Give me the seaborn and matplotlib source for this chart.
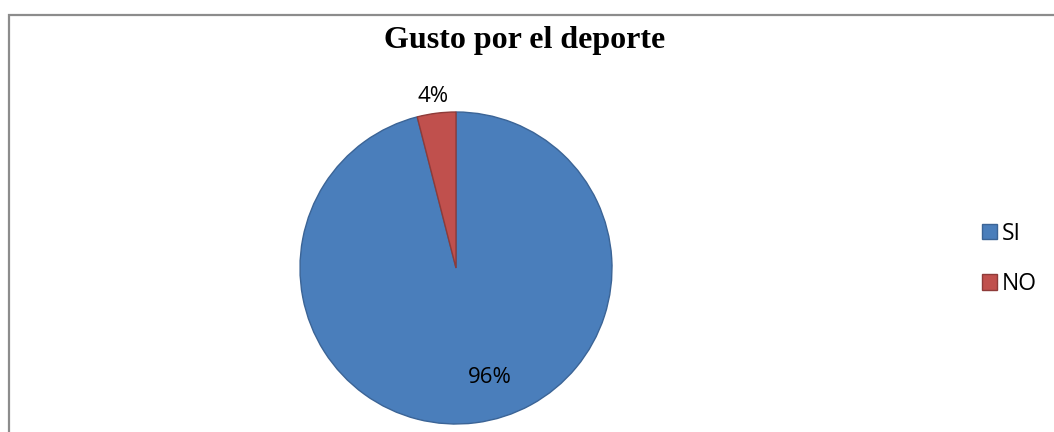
import numpy as np
import matplotlib
matplotlib.use("Agg")
import matplotlib.pyplot as plt
import seaborn as sns
from matplotlib.patches import Rectangle

categories = ["SI", "NO"]
values = [96, 4]
pct_labels = ["96%", "4%"]
title = "Gusto por el deporte"

sns.set_theme(style="white")
plt.rcParams['font.family'] = ['Open Sans', 'DejaVu Sans']
plt.rcParams['text.color'] = 'black'

colors = ["#4A7EBB", "#C0504D"]
edges = ["#3B6496", "#8E3B39"]

fig = plt.figure(figsize=(10.54, 4.32), dpi=100)
W, H = 1054, 432

# frame
fig.patches.append(Rectangle((8.5 / W, -0.1), 1.2, (432 - 15) / H + 0.1, transform=fig.transFigure,
                             fill=False, edgecolor="#8C8C8C", linewidth=1.6, zorder=0))

ax = fig.add_axes([300 / W, 8 / H, 312 / W, 312 / H])
wedges, _ = ax.pie(values, colors=colors, startangle=90, counterclock=False,
                   wedgeprops=dict(linewidth=1.0), radius=1.0)
for w, e in zip(wedges, edges):
    w.set_edgecolor(e)
ax.set_xlim(-1, 1)
ax.set_ylim(-1, 1)
ax.set_aspect("equal")
ax.axis("off")

# label positions derived from wedge angles
for w, lab, v in zip(wedges, pct_labels, values):
    ang = np.deg2rad((w.theta1 + w.theta2) / 2)
    if v < 10:
        d = 1.11
        ax.text(d * np.cos(ang) - 0.01, d * np.sin(ang), lab, ha="center", va="center",
                fontsize=16, color="black")
    else:
        ax.text(0.218, -0.705, lab, ha="center", va="center", fontsize=16, color="black")

fig.text(525 / W, 1 - 48 / H, title, ha="center", va="baseline", fontsize=23,
         fontweight="bold", color="black", family=["Liberation Serif", "DejaVu Serif"])

fig.legend(wedges, categories, loc="center left", bbox_to_anchor=(982 / W, 1 - 259 / H),
           frameon=False, fontsize=16.5, handlelength=0.65, handleheight=0.65,
           handletextpad=0.2, labelspacing=1.15, borderpad=0, borderaxespad=0)

fig.savefig("out.png", dpi=100)
